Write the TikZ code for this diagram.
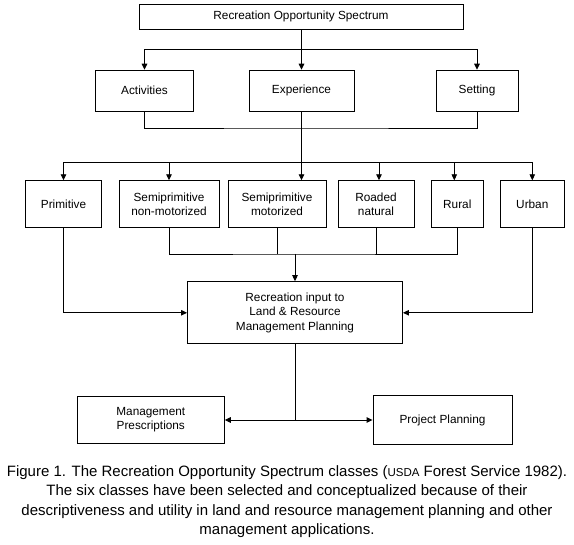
\documentclass[tikz,border=0pt]{standalone}
\usepackage{fontspec}
\setmainfont{Liberation Sans}
\usetikzlibrary{arrows.meta}
\begin{document}
\begin{tikzpicture}[x=1pt,y=-1pt,
  box/.style={draw=black, line width=0.9pt, inner sep=0pt, align=center,
    font=\fontsize{11.8}{14.2}\selectfont},
  conn/.style={line width=0.9pt},
  arr/.style={conn, -{Triangle[length=6pt,width=5.5pt]}},
  captext/.style={align=center, inner sep=0pt, font=\fontsize{15}{19.5}\selectfont}]
\path[use as bounding box] (0,0) rectangle (574,545);
% level 0
\node[box, minimum width=324pt, minimum height=25pt] (ros) at (301,16.5) {Recreation Opportunity Spectrum};
% level 1
\node[box, minimum width=98pt, minimum height=41pt] (act) at (144.5,90.7) {Activities};
\node[box, minimum width=105pt, minimum height=41pt] (exp) at (301.5,90.7) {Experience};
\node[box, minimum width=82pt, minimum height=41pt] (set) at (477,90.7) {Setting};
% level 2
\node[box, minimum width=76.5pt, minimum height=46.5pt] (prim) at (63.5,204) {Primitive};
\node[box, minimum width=100pt, minimum height=46.5pt] (snm) at (169,204) {Semiprimitive\\non-motorized};
\node[box, minimum width=98pt, minimum height=46.5pt] (sm) at (277,204) {Semiprimitive\\motorized};
\node[box, minimum width=76pt, minimum height=46.5pt] (rn) at (376,204) {Roaded\\natural};
\node[box, minimum width=52pt, minimum height=46.5pt] (rur) at (457.3,204) {Rural};
\node[box, minimum width=64pt, minimum height=46.5pt] (urb) at (532.3,204) {Urban};
% level 3
\node[box, minimum width=215pt, minimum height=62.3pt] (rec) at (295,312.8) {Recreation input to\\Land \& Resource\\Management Planning};
% level 4
\node[box, minimum width=147pt, minimum height=47.4pt] (mp) at (150.8,420) {Management\\Prescriptions};
\node[box, minimum width=139pt, minimum height=48.7pt] (pp) at (442.5,420) {Project Planning};
% caption
\node[captext] (caption) at (287,501.5) {Figure 1. The Recreation Opportunity Spectrum classes ({\fontsize{11.5}{12}\selectfont USDA} Forest Service 1982).\\
The six classes have been selected and conceptualized because of their\\
descriptiveness and utility in land and resource management planning and other\\
management applications.};
% connectors level 0 -> 1
\coordinate (bus1) at (301.5,49);
\draw[arr] (ros.south -| exp.north) -- (exp.north);
\draw[arr] (bus1) -| (act.north);
\draw[arr] (bus1) -| (set.north);
% join below level 1
\coordinate (j1) at (301.5,128);
\draw[conn] (act.south) |- (j1) -| (set.south);
% experience line down to level 2
\coordinate (bus2) at (302,162.3);
\draw[arr] (exp.south) -- (exp.south |- sm.north);
\draw[arr] (bus2) -| (prim.north);
\draw[arr] (bus2) -| (urb.north);
\draw[arr] (snm.north |- bus2) -- (snm.north);
\draw[arr] ([xshift=3pt]rn.north |- bus2) -- ([xshift=3pt]rn.north);
\draw[arr] ([xshift=-3pt]rur.north |- bus2) -- ([xshift=-3pt]rur.north);
% join below level 2
\coordinate (bus3) at (295,254);
\draw[conn] (snm.south) |- (bus3) -| (rur.south);
\draw[conn] (sm.south) -- (sm.south |- bus3);
\draw[conn] (rn.south) -- (rn.south |- bus3);
\draw[arr] (bus3) -- (rec.north);
\draw[arr] (prim.south) |- (rec.west);
\draw[arr] (urb.south) |- (rec.east);
% level 3 -> 4
\coordinate (bus4) at (295,420);
\draw[conn] (rec.south) -- (bus4);
\draw[arr] (bus4) -- (mp.east);
\draw[arr] (bus4) -- (pp.west);
\end{tikzpicture}
\end{document}
